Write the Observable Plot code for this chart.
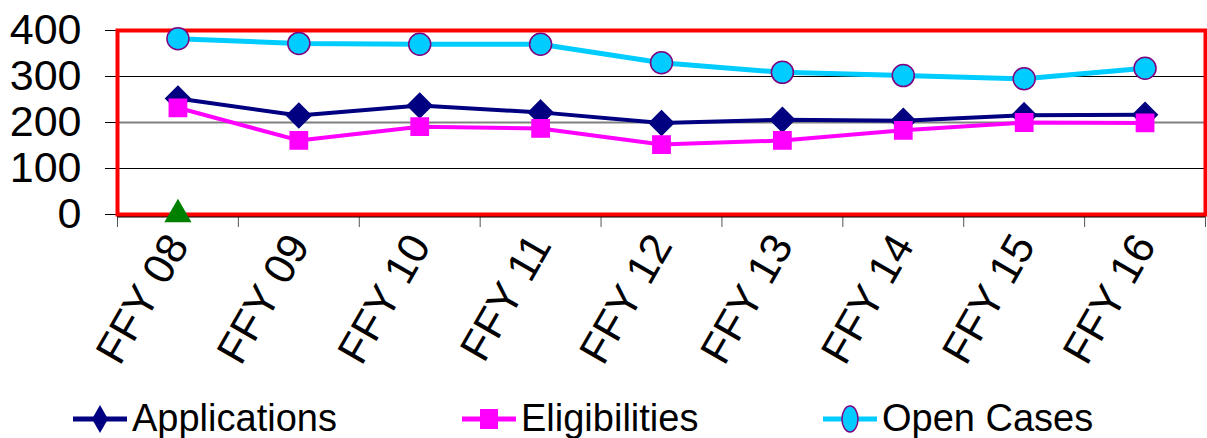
<!DOCTYPE html>
<html><head><meta charset="utf-8">
<script src="https://cdn.jsdelivr.net/npm/d3@7"></script>
<script src="https://cdn.jsdelivr.net/npm/@observablehq/plot@0.6"></script>
<style>
body{margin:0;background:#fff;font-family:"Liberation Sans",Arial,sans-serif;}
#chart svg{display:block;}
#legend{position:relative;width:1207px;height:53px;}
.item{position:absolute;top:7px;height:53px;display:flex;align-items:center;font-size:38px;color:#000;}
.item svg{margin-right:3px;}
</style>
</head><body>
<div id="chart"></div>
<div id="legend"></div>
<script>
const categories = ["FFY 08","FFY 09","FFY 10","FFY 11","FFY 12","FFY 13","FFY 14","FFY 15","FFY 16"];
const applications = [252,215,237,222,199,206,204,216,217];
const eligibilities = [232,161,191,187,152,161,183,200,199];
const openCases = [382,372,370,370,330,309,302,295,318];
const markerCategory = ["FFY 08"];
const markerValue = [0];
const yTicks = [0,100,200,300,400];
const seriesNames = ["Applications","Eligibilities","Open Cases"];

const W = 1207, H = 385;
const idx = c => categories.indexOf(c) + 0.5;
const rows = (vals) => vals.map((v,i)=>({x:i+0.5, y:v}));
const appRows = rows(applications), eliRows = rows(eligibilities), openRows = rows(openCases);
const markRows = markerCategory.map((c,i)=>({x:idx(c), y:markerValue[i]}));

const chart = Plot.plot({
  width: W, height: H,
  marginLeft: 117, marginRight: 2, marginTop: 30, marginBottom: H-214,
  style:{fontFamily:'"Liberation Sans",Arial,sans-serif', background:"#fff", overflow:"visible"},
  x:{domain:[0,categories.length], axis:null},
  y:{domain:[0,400], axis:null},
  marks:[
    Plot.ruleY([100,300],{stroke:"#000",strokeWidth:1.2}),
    Plot.ruleY([200],{stroke:"#808080",strokeWidth:2}),
    Plot.axisY(yTicks,{tickSize:12, tickPadding:24, fontSize:43, label:null, stroke:"#000", color:"#000"}),
    Plot.axisX(d3.range(categories.length+1),{tickSize:13, tickFormat:()=>"", label:null, stroke:"#555"}),
    Plot.axisX(categories.map((c,i)=>i+0.5),{tickSize:0, tickPadding:24, tickRotate:-60, fontSize:43, label:null,
      tickFormat:d=>categories[Math.floor(d)], color:"#000"}),
    Plot.ruleY([0],{stroke:"#000",strokeWidth:2,dy:2}),
    Plot.frame({stroke:"#ff0000",strokeWidth:4}),
    Plot.line(openRows,{x:"x",y:"y",stroke:"#00ccff",strokeWidth:5}),
    Plot.line(appRows,{x:"x",y:"y",stroke:"#000080",strokeWidth:4}),
    Plot.line(eliRows,{x:"x",y:"y",stroke:"#ff00ff",strokeWidth:4}),
    Plot.dot(appRows,{x:"x",y:"y",symbol:"diamond2",r:11,fill:"#000080",stroke:"#000080"}),
    Plot.dot(eliRows,{x:"x",y:"y",symbol:"square2",r:11,fill:"#ff00ff",stroke:"#ff00ff"}),
    Plot.dot(openRows,{x:"x",y:"y",r:11,fill:"#00ccff",stroke:"#800080",strokeWidth:1.5}),
    Plot.dot(markRows,{x:"x",y:"y",symbol:"triangle2",r:13,fill:"#008000",stroke:"none"})
  ]
});
document.getElementById("chart").appendChild(chart);

const legend = document.getElementById("legend");
const lx = [73, 462, 823];
const swatch = [
  `<line x1="0" y1="20" x2="54" y2="20" stroke="#000080" stroke-width="5"/><path d="M27 6 L35 20 L27 34 L19 20Z" fill="#000080"/>`,
  `<line x1="0" y1="20" x2="54" y2="20" stroke="#ff00ff" stroke-width="5"/><rect x="18" y="10" width="18" height="20" fill="#ff00ff"/>`,
  `<line x1="0" y1="20" x2="54" y2="20" stroke="#00ccff" stroke-width="5"/><ellipse cx="27" cy="20" rx="8" ry="13" fill="#00ccff" stroke="#800080" stroke-width="1.5"/>`
];
seriesNames.forEach((n,i)=>{
  const d = document.createElement("div");
  d.className="item"; d.style.left = lx[i]+"px";
  d.innerHTML = `<svg width="56" height="40">${swatch[i]}</svg><span>${n}</span>`;
  legend.appendChild(d);
});
</script>
</body></html>
